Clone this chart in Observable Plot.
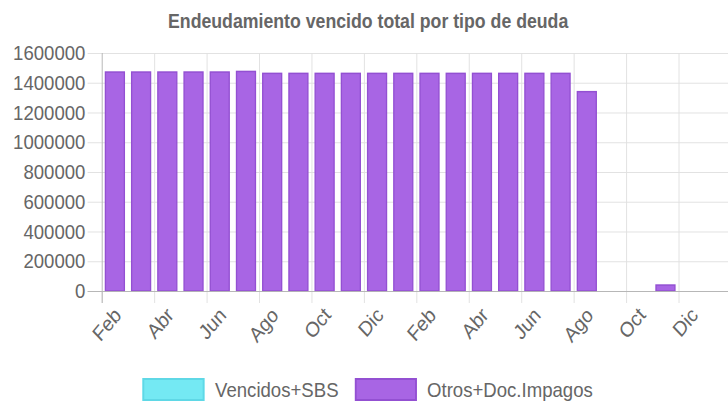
<!DOCTYPE html>
<html>
<head>
<meta charset="utf-8">
<script src="https://cdn.jsdelivr.net/npm/d3@7"></script>
<script src="https://cdn.jsdelivr.net/npm/@observablehq/plot@0.6"></script>
<style>
  html, body { margin: 0; padding: 0; background: #fff; overflow: hidden; width: 728px; height: 404px; }
  body { font-family: "Liberation Sans", Arial, sans-serif; color: #666; }
  /* the reference is horizontally compressed; draw at a wider size and squeeze */
  #wrap { position: absolute; left: 0; top: 0; width: 826px; height: 404px; transform: scaleX(0.885); transform-origin: 0 0; }
  #title { position: absolute; left: 0; top: 0; width: 832px; height: 40px; text-align: center;
           font-weight: bold; font-size: 20px; line-height: 20px; padding-top: 11px; box-sizing: border-box; }
  #chart { position: absolute; left: 0; top: 40px; }
  #legend { position: absolute; left: 161px; top: 378px; display: flex; align-items: center; font-size: 21px; white-space: nowrap; }
  .sw { width: 66px; height: 19px; border: 2px solid; margin-right: 12px; box-sizing: content-box; }
  .lab { margin-right: 18px; line-height: 23px; }
</style>
</head>
<body>
<div id="wrap">
<div id="title">Endeudamiento vencido total por tipo de deuda</div>
<div id="chart"></div>
<div id="legend"></div>
</div>
<script>
// Month labels (Feb year 1 .. Ene year 3)
const months = ["Feb","Mar","Abr","May","Jun","Jul","Ago","Sep","Oct","Nov","Dic","Ene",
                "Feb","Mar","Abr","May","Jun","Jul","Ago","Sep","Oct","Nov","Dic","Ene"];
// Series values
const vencidosSBS = [0,0,0,0,0,0,0,0,0,0,0,0, 0,0,0,0,0,0,0,null,null,0,null,null];
const otrosDocImpagos = [1472000,1472000,1472000,1472000,1472000,1476000,1463000,1463000,1463000,1463000,1463000,1463000,
                         1463000,1463000,1463000,1463000,1463000,1463000,1340000,null,null,40000,null,null];
const seriesNames = ["Vencidos+SBS", "Otros+Doc.Impagos"];
const seriesFill = ["#74e9f3", "#a865e4"];
const seriesStroke = ["#5fd8e6", "#9350d2"];
const yTicks = [0,200000,400000,600000,800000,1000000,1200000,1400000,1600000];

const rows = [];
months.forEach((m, i) => {
  rows.push({i, m, serie: seriesNames[0], v: vencidosSBS[i]});
  rows.push({i, m, serie: seriesNames[1], v: otrosDocImpagos[i]});
});
const data = rows.filter(d => d.v != null && d.v > 0);

const n = months.length;
const boundaries = d3.range(0, n + 1, 2);
const labelPos = d3.range(0, n - 1, 2);
const labelMap = new Map(labelPos.map(i => [i + 0.5, months[i]]));

const grid = "#e0e0e0";
const axisCol = "#b4b4b4";

const chart = Plot.plot({
  width: 826,
  height: 330,
  marginLeft: 115,
  marginRight: 0,
  marginTop: 13,
  marginBottom: 79,
  style: {fontFamily: '"Liberation Sans", Arial, sans-serif', fontSize: "21px", color: "#666", background: "white", overflow: "visible"},
  x: {domain: [0, n], axis: null, label: null},
  y: {domain: [0, 1600000], axis: null, label: null},
  color: {domain: seriesNames, range: seriesFill},
  marks: [
    Plot.ruleY(yTicks, {y: d => d, stroke: grid, strokeWidth: 1}),
    Plot.ruleX(boundaries.filter(b => b > 0), {x: d => d, stroke: grid, strokeWidth: 1}),
    Plot.axisX(boundaries, {tickSize: 12, tickFormat: () => "", stroke: grid, strokeOpacity: 1, label: null}),
    Plot.axisY(yTicks, {tickSize: 16, tickPadding: 3, tickFormat: d => String(d), stroke: grid, strokeOpacity: 1, fill: "#666", label: null}),
    Plot.rectY(data, {
      x1: "i", x2: d => d.i + 1, y: "v", fill: "serie", z: "serie",
      stroke: d => seriesStroke[seriesNames.indexOf(d.serie)], strokeWidth: 1.5,
      insetLeft: 4.1, insetRight: 4.1
    }),
    Plot.ruleX([0], {stroke: axisCol, strokeWidth: 1, insetBottom: -12}),
    Plot.ruleY([0], {stroke: axisCol, strokeWidth: 1, insetLeft: -16}),
    Plot.axisX([...labelMap.keys()], {tickSize: 0, tickPadding: 20, tickRotate: -47, tickFormat: d => labelMap.get(d), fill: "#666", dx: 3, label: null})
  ]
});
document.getElementById("chart").appendChild(chart);

const legend = document.getElementById("legend");
seriesNames.forEach((s, k) => {
  const sw = document.createElement("div");
  sw.className = "sw";
  sw.style.background = seriesFill[k];
  sw.style.borderColor = seriesStroke[k];
  const lab = document.createElement("span");
  lab.className = "lab";
  lab.textContent = s;
  legend.appendChild(sw);
  legend.appendChild(lab);
});
</script>
</body>
</html>
